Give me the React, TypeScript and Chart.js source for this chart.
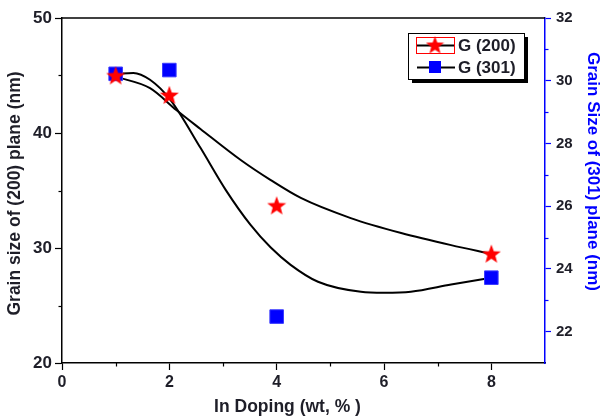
import React, { useEffect, useRef } from 'react';
import { Chart, registerables } from 'chart.js';

Chart.register(...registerables);

// Measured points
const dopingX = [1, 2, 4, 8];
const grain200 = [45.0, 43.3, 33.7, 29.5];
const grain301 = [30.22, 30.34, 22.48, 23.72];

// Fitted curves
const fit200X = [1, 1.64, 2.13, 2.58, 3.33, 3.89, 4.45, 5.38, 6.32, 7.25, 8];
const fit200Y = [44.9, 43.9, 42.0, 40.35, 37.65, 35.9, 34.35, 32.6, 31.3, 30.25, 29.5];
const fit301X = [1, 1.33, 1.64, 2.02, 2.58, 3.05, 3.51, 3.89, 4.26, 4.77, 5.57, 6.0, 6.5, 7.25, 8];
const fit301Y = [30.22, 30.25, 30.03, 29.39, 27.86, 26.52, 25.41, 24.68, 24.13, 23.59, 23.27, 23.24, 23.27, 23.5, 23.72];

// Ticks
const xTickValues = [0, 2, 4, 6, 8];
const xMinorValues = [1, 3, 5, 7];
const leftTickValues = [20, 30, 40, 50];
const leftMinorValues = [25, 35, 45];
const rightTickValues = [22, 24, 26, 28, 30, 32];
const rightMinorValues = [23, 25, 27, 29, 31];

const legendLabels = ['G (200)', 'G (301)'];
const xTitle = 'In Doping (wt, % )';
const yTitle = 'Grain size of (200) plane (nm)';
const y1Title = 'Grain Size of (301) plane (nm)';

const FONT = '"Liberation Sans", Arial, sans-serif';
const TEXT = '#1e1e28';

function makeStar(size: number, color: string) {
  const c = document.createElement('canvas');
  c.width = size;
  c.height = size;
  const ctx = c.getContext('2d')!;
  const cx = size / 2, cy = size / 2 + 0.8, R = size / 2, r = R * 0.42;
  ctx.beginPath();
  for (let i = 0; i < 10; i++) {
    const a = -Math.PI / 2 + (i * Math.PI) / 5;
    const rad = i % 2 === 0 ? R : r;
    ctx.lineTo(cx + rad * Math.cos(a), cy + rad * Math.sin(a));
  }
  ctx.closePath();
  ctx.fillStyle = color;
  ctx.fill();
  return c;
}

export default function App() {
  const ref = useRef<HTMLCanvasElement>(null);
  useEffect(() => {
    const star = makeStar(20, '#ff0000');
    const starSmall = makeStar(19, '#ff0000');

    const extras = {
      id: 'extras',
      afterDraw(chart: any) {
        const ctx = chart.ctx;
        const { left, right, top, bottom } = chart.chartArea;
        const W = chart.width, H = chart.height;
        const xs = chart.scales.x, ys = chart.scales.y, y1 = chart.scales.y1;
        ctx.save();
        // top frame line
        ctx.strokeStyle = '#000';
        ctx.lineWidth = 1.5;
        ctx.beginPath();
        ctx.moveTo(left, top);
        ctx.lineTo(right, top);
        ctx.stroke();
        // minor ticks
        ctx.lineWidth = 1.2;
        ctx.strokeStyle = '#000';
        xMinorValues.forEach((v) => {
          const p = Math.round(xs.getPixelForValue(v)) + 0.5;
          ctx.beginPath();
          ctx.moveTo(p, bottom);
          ctx.lineTo(p, bottom + 3.5);
          ctx.stroke();
        });
        leftMinorValues.forEach((v) => {
          const p = Math.round(ys.getPixelForValue(v)) + 0.5;
          ctx.beginPath();
          ctx.moveTo(left, p);
          ctx.lineTo(left - 3.5, p);
          ctx.stroke();
        });
        ctx.strokeStyle = '#0000ff';
        rightMinorValues.forEach((v) => {
          const p = Math.round(y1.getPixelForValue(v)) + 0.5;
          ctx.beginPath();
          ctx.moveTo(right, p);
          ctx.lineTo(right + 3.5, p);
          ctx.stroke();
        });

        // axis titles
        ctx.textAlign = 'center';
        ctx.textBaseline = 'middle';
        ctx.fillStyle = TEXT;
        ctx.font = `bold 17.5px ${FONT}`;
        ctx.fillText(xTitle, (left + right) / 2 - 16, H - 11);
        ctx.save();
        ctx.translate(15.5, (top + bottom) / 2 + 3);
        ctx.rotate(-Math.PI / 2);
        ctx.fillText(yTitle, 0, 0);
        ctx.restore();
        ctx.save();
        ctx.fillStyle = '#0000ff';
        ctx.font = `bold 17px ${FONT}`;
        ctx.translate(W - 10, (top + bottom) / 2 - 19);
        ctx.rotate(Math.PI / 2);
        ctx.fillText(y1Title, 0, 0);
        ctx.restore();

        // legend
        const bx = right - 137, by = top + 15, bw = 116, bh = 46;
        ctx.fillStyle = '#000';
        ctx.fillRect(bx + 4, by + 4, bw, bh);
        ctx.fillStyle = '#fff';
        ctx.fillRect(bx, by, bw, bh);
        ctx.strokeStyle = '#000';
        ctx.lineWidth = 1;
        ctx.strokeRect(bx + 0.5, by + 0.5, bw, bh);

        const sx0 = bx + 8, sx1 = bx + 47, scx = bx + 27;
        const r1 = by + 12, r2 = by + 34;
        // item 1
        ctx.strokeStyle = '#ff0000';
        ctx.strokeRect(sx0 + 0.5, r1 - 7.5, 38, 16);
        ctx.strokeStyle = '#000';
        ctx.lineWidth = 2;
        ctx.beginPath();
        ctx.moveTo(sx0 + 1, r1 + 0.5);
        ctx.lineTo(sx1 - 1, r1 + 0.5);
        ctx.stroke();
        ctx.drawImage(starSmall, scx - 9.5, r1 - 9.5);
        // item 2
        ctx.beginPath();
        ctx.moveTo(sx0 + 1, r2 + 0.5);
        ctx.lineTo(sx1, r2 + 0.5);
        ctx.stroke();
        ctx.fillStyle = '#0000ff';
        ctx.fillRect(scx - 6, r2 - 6, 12, 12);

        ctx.fillStyle = TEXT;
        ctx.font = `bold 17px ${FONT}`;
        ctx.textBaseline = 'middle';
        ctx.textAlign = 'left';
        ctx.fillText(legendLabels[0], bx + 50, r1 + 1);
        ctx.fillText(legendLabels[1], bx + 50, r2 + 1);
        ctx.restore();
      },
    };

    const chart = new Chart(ref.current!, {
      type: 'scatter',
      data: {
        datasets: [
          {
            label: legendLabels[0],
            data: dopingX.map((x, i) => ({ x, y: grain200[i] })),
            yAxisID: 'y',
            pointStyle: star as any,
            pointRadius: 10,
            showLine: false,
            backgroundColor: '#ff0000',
            borderColor: '#ff0000',
          },
          {
            label: legendLabels[1],
            data: dopingX.map((x, i) => ({ x, y: grain301[i] })),
            yAxisID: 'y1',
            pointStyle: 'rect',
            pointRadius: 9.6,
            borderWidth: 1,
            showLine: false,
            backgroundColor: '#0000ff',
            borderColor: '#3a3aff',
          },
          {
            label: 'fit200',
            data: fit200X.map((x, i) => ({ x, y: fit200Y[i] })),
            yAxisID: 'y',
            showLine: true,
            pointRadius: 0,
            borderColor: '#000',
            borderWidth: 2,
            cubicInterpolationMode: 'monotone',
          },
          {
            label: 'fit301',
            data: fit301X.map((x, i) => ({ x, y: fit301Y[i] })),
            yAxisID: 'y1',
            showLine: true,
            pointRadius: 0,
            borderColor: '#000',
            borderWidth: 2,
            cubicInterpolationMode: 'monotone',
          },
        ],
      },
      options: {
        responsive: false,
        animation: false,
        devicePixelRatio: 1,
        layout: { padding: { top: 18, left: 0, right: 0, bottom: 0 } },
        plugins: { legend: { display: false }, tooltip: { enabled: false } },
        scales: {
          x: {
            type: 'linear',
            position: 'bottom',
            min: 0,
            max: 9,
            afterBuildTicks: (s: any) => {
              s.ticks = xTickValues.map((v) => ({ value: v }));
            },
            afterFit: (s: any) => {
              s.height = 55;
            },
            border: { color: '#000', width: 1.5 },
            grid: { drawOnChartArea: false, drawTicks: true, tickLength: 7, tickColor: '#000', tickWidth: 1.2 },
            ticks: { color: TEXT, font: { family: FONT, size: 16, weight: 'bold' }, padding: 3, maxRotation: 0 },
            title: { display: false },
          },
          y: {
            type: 'linear',
            position: 'left',
            min: 20,
            max: 50,
            afterBuildTicks: (s: any) => {
              s.ticks = leftTickValues.map((v) => ({ value: v }));
            },
            afterFit: (s: any) => {
              s.width = 62;
            },
            border: { color: '#000', width: 1.5 },
            grid: { drawOnChartArea: false, drawTicks: true, tickLength: 7, tickColor: '#000', tickWidth: 1.2 },
            ticks: { color: TEXT, font: { family: FONT, size: 17, weight: 'bold' }, padding: 3 },
            title: { display: false },
          },
          y1: {
            type: 'linear',
            position: 'right',
            min: 21,
            max: 32,
            afterBuildTicks: (s: any) => {
              s.ticks = rightTickValues.map((v) => ({ value: v }));
            },
            afterFit: (s: any) => {
              s.width = 58;
            },
            border: { color: '#0000ff', width: 1.5 },
            grid: { drawOnChartArea: false, drawTicks: true, tickLength: 6, tickColor: '#0000ff', tickWidth: 1.2 },
            ticks: { color: TEXT, font: { family: FONT, size: 15, weight: 'bold' }, padding: 5 },
            title: { display: false },
          },
        },
      },
      plugins: [extras],
    } as any);
    return () => chart.destroy();
  }, []);

  return (
    <div style={{ position: 'absolute', left: 0, top: 0, width: 603, height: 418, background: '#fff' }}>
      <canvas ref={ref} width={603} height={418} style={{ display: 'block', width: 603, height: 418 }} />
    </div>
  );
}
